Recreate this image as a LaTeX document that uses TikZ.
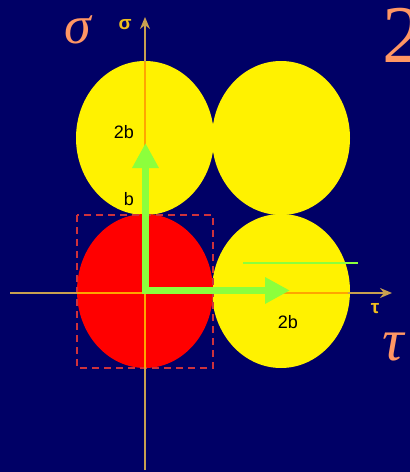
\documentclass[tikz,border=0pt]{standalone}
\usepackage{fontspec}
\setsansfont{Liberation Sans}
\newfontfamily\greekfont{Liberation Serif}
\usetikzlibrary{arrows.meta}

\definecolor{navybg}{RGB}{0,0,102}
\definecolor{salmon}{RGB}{255,150,100}
\definecolor{axistan}{RGB}{200,160,80}
\definecolor{axisorange}{RGB}{255,165,0}
\definecolor{brightgreen}{RGB}{140,255,60}
\definecolor{boxred}{RGB}{205,50,60}
\definecolor{labelgold}{RGB}{240,190,30}

\begin{document}
\begin{tikzpicture}[x=1pt, y=1pt]

\tikzset{
  yellowdisc/.style = {fill=yellow},
  reddisc/.style    = {fill=red},
  axisline/.style   = {axistan, line width=1.5pt},
  axisarr/.style    = {axisline, -{Stealth[length=12pt,width=10pt]}},
  inner/.style      = {axisorange, line width=1.5pt},
  greenarr/.style   = {brightgreen, line width=7pt, -{Triangle[length=25pt,width=25pt]}},
  bigsym/.style     = {text=salmon, font=\fontsize{54}{54}\selectfont\greekfont\itshape,
                       inner sep=0pt, anchor=base, text height=30pt, text depth=0pt},
  smallsym/.style   = {text=labelgold, font=\fontsize{19}{19}\selectfont\sffamily\bfseries, inner sep=0pt},
  dimlbl/.style     = {text=black, font=\fontsize{18}{18}\selectfont\sffamily, inner sep=0pt}
}

%% -- Background ---------------------------------------------------
\fill[navybg] (0,0) rectangle (410,-472);
\useasboundingbox (0,0) rectangle (410,-472);

%% -- Discs --------------------------------------------------------
\fill[yellowdisc] (145,-138) ellipse [x radius=69, y radius=77];
\fill[yellowdisc] (281,-138) ellipse [x radius=69, y radius=77];
\fill[yellowdisc] (281,-291) ellipse [x radius=69, y radius=77];
\fill[reddisc]    (145,-291) ellipse [x radius=68, y radius=77];

%% -- Dashed cell --------------------------------------------------
\draw[boxred, line width=1.8pt, dash pattern=on 7pt off 5pt]
  (77,-215) rectangle (213,-368);

%% -- Axes ---------------------------------------------------------
\coordinate (tauL)   at (10,-293);
\coordinate (tauR)   at (392,-293);
\coordinate (sigB)   at (145,-470);
\coordinate (sigT)   at (145,-17);
\draw[axisarr] (tauL) -- (tauR);
\draw[axisarr] (sigB) -- (sigT);
\draw[inner] (77,-293) -- (348,-293);
\draw[inner] (145,-62) -- (145,-368);

%% -- Vectors ------------------------------------------------------
\coordinate (vbase) at (145.5,-294);
\coordinate (vtip)  at (145.5,-143);
\coordinate (hbase) at (142,-290.5);
\coordinate (htip)  at (290,-290.5);
\draw[greenarr] (vbase) -- (vtip);
\draw[greenarr] (hbase) -- (htip);

\coordinate (markL) at (243,-263);
\coordinate (markR) at (358,-263);
\draw[brightgreen, line width=2pt] (markL) -- (markR);

%% -- Labels -------------------------------------------------------
\node[bigsym] (sigbig) at (78,-43)  {σ};
\node[bigsym, font=\fontsize{60}{60}\selectfont\greekfont\itshape] (taubig) at (393,-360) {τ};
\node[text=salmon, font=\fontsize{82}{82}\selectfont\greekfont, inner sep=0pt,
      anchor=base west] (two) at (382,-62) {2};
\node[smallsym] (sigsmall) at (125,-25)  {σ};
\node[smallsym] (tausmall) at (375,-309) {τ};
\node[dimlbl] (twobA) at (124,-132) {2b};
\node[dimlbl] (bA)    at (129,-199) {b};
\node[dimlbl] (twobB) at (288,-322) {2b};

\end{tikzpicture}
\end{document}
